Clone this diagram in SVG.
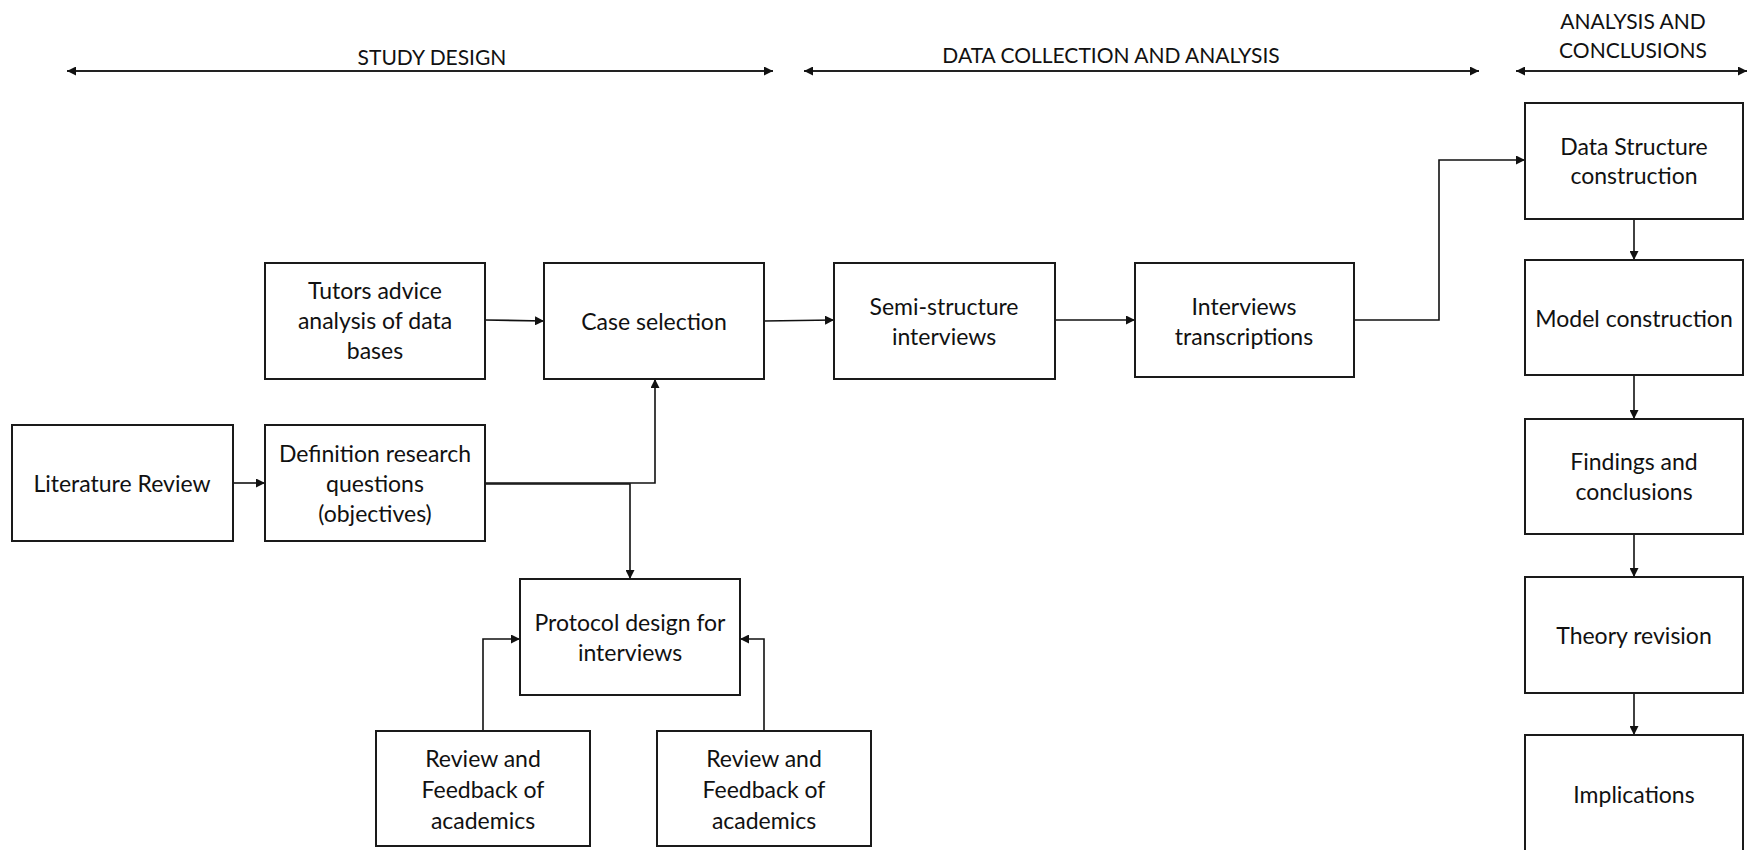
<svg xmlns="http://www.w3.org/2000/svg" width="1749" height="850" viewBox="0 0 1749 850">
  <style>
    .box { fill: #ffffff; stroke: #1a1a1a; stroke-width: 2; }
    .lbl { font-family: Lato, "Liberation Sans", sans-serif; font-size: 23px; fill: #111111; text-anchor: middle; dominant-baseline: central; }
    .hdr { font-family: Lato, "Liberation Sans", sans-serif; font-size: 21px; fill: #111111; text-anchor: middle; dominant-baseline: central; }
    .link { fill: none; stroke: #111111; stroke-width: 1.6; marker-end: url(#arrow); }
    .plain { fill: none; stroke: #111111; stroke-width: 1.6; }
    .span { fill: none; stroke: #222222; stroke-width: 2.2; marker-start: url(#arrow); marker-end: url(#arrow); }
  </style>
  <defs>
    <marker id="arrow" viewBox="0 0 10 10" refX="10" refY="5" markerWidth="9" markerHeight="9" markerUnits="userSpaceOnUse" orient="auto-start-reverse">
      <path d="M0,0 L10,5 L0,10 z" fill="#111111"/>
    </marker>
  </defs>

  <rect width="1749" height="850" fill="#ffffff"/>

  <!-- phase headers -->
  <g id="phases">
    <text class="hdr" x="432" y="56">STUDY DESIGN</text>
    <text class="hdr" x="1111" y="54">DATA COLLECTION AND ANALYSIS</text>
    <text class="hdr" x="1633" y="20">ANALYSIS AND</text>
    <text class="hdr" x="1633" y="49">CONCLUSIONS</text>
    <path class="span" d="M67,71 H773"/>
    <path class="span" d="M804,71 H1479"/>
    <path class="span" d="M1516,71 H1747"/>
  </g>

  <!-- connectors -->
  <g id="connectors">
    <path class="link" d="M233,483 H265"/>
    <path class="link" d="M485,320 L544,321"/>
    <path class="link" d="M485,483 H655 V379"/>
    <path class="link" d="M485,484 H630 V579"/>
    <path class="link" d="M483,731 V639 H520"/>
    <path class="link" d="M764,731 V639 H740"/>
    <path class="link" d="M764,321 L834,320"/>
    <path class="link" d="M1055,320 H1135"/>
    <path class="link" d="M1354,320 H1439 V160 H1525"/>
    <path class="link" d="M1634,219 V260"/>
    <path class="link" d="M1634,375 V419"/>
    <path class="link" d="M1634,534 V577"/>
    <path class="link" d="M1634,693 V735"/>
  </g>

  <!-- study design nodes -->
  <g id="literature-review">
    <rect class="box" x="12" y="425" width="221" height="116"/>
    <text class="lbl" x="122" y="483">Literature Review</text>
  </g>
  <g id="tutors-advice">
    <rect class="box" x="265" y="263" width="220" height="116"/>
    <text class="lbl" x="375" y="290">Tutors advice</text>
    <text class="lbl" x="375" y="320">analysis of data</text>
    <text class="lbl" x="375" y="350">bases</text>
  </g>
  <g id="definition-questions">
    <rect class="box" x="265" y="425" width="220" height="116"/>
    <text class="lbl" x="375" y="453">Definition research</text>
    <text class="lbl" x="375" y="483">questions</text>
    <text class="lbl" x="375" y="513">(objectives)</text>
  </g>
  <g id="case-selection">
    <rect class="box" x="544" y="263" width="220" height="116"/>
    <text class="lbl" x="654" y="321">Case selection</text>
  </g>
  <g id="protocol-design">
    <rect class="box" x="520" y="579" width="220" height="116"/>
    <text class="lbl" x="630" y="622">Protocol design for</text>
    <text class="lbl" x="630" y="652">interviews</text>
  </g>
  <g id="review-feedback-1">
    <rect class="box" x="376" y="731" width="214" height="115"/>
    <text class="lbl" x="483" y="758">Review and</text>
    <text class="lbl" x="483" y="789">Feedback of</text>
    <text class="lbl" x="483" y="820">academics</text>
  </g>
  <g id="review-feedback-2">
    <rect class="box" x="657" y="731" width="214" height="115"/>
    <text class="lbl" x="764" y="758">Review and</text>
    <text class="lbl" x="764" y="789">Feedback of</text>
    <text class="lbl" x="764" y="820">academics</text>
  </g>

  <!-- data collection nodes -->
  <g id="semi-structured-interviews">
    <rect class="box" x="834" y="263" width="221" height="116"/>
    <text class="lbl" x="944" y="306">Semi-structure</text>
    <text class="lbl" x="944" y="336">interviews</text>
  </g>
  <g id="interview-transcriptions">
    <rect class="box" x="1135" y="263" width="219" height="114"/>
    <text class="lbl" x="1244" y="306">Interviews</text>
    <text class="lbl" x="1244" y="336">transcriptions</text>
  </g>

  <!-- analysis and conclusions nodes -->
  <g id="data-structure">
    <rect class="box" x="1525" y="103" width="218" height="116"/>
    <text class="lbl" x="1634" y="146">Data Structure</text>
    <text class="lbl" x="1634" y="175">construction</text>
  </g>
  <g id="model-construction">
    <rect class="box" x="1525" y="260" width="218" height="115"/>
    <text class="lbl" x="1634" y="318">Model construction</text>
  </g>
  <g id="findings">
    <rect class="box" x="1525" y="419" width="218" height="115"/>
    <text class="lbl" x="1634" y="461">Findings and</text>
    <text class="lbl" x="1634" y="491">conclusions</text>
  </g>
  <g id="theory-revision">
    <rect class="box" x="1525" y="577" width="218" height="116"/>
    <text class="lbl" x="1634" y="635">Theory revision</text>
  </g>
  <g id="implications">
    <rect class="box" x="1525" y="735" width="218" height="120"/>
    <text class="lbl" x="1634" y="794">Implications</text>
  </g>
</svg>
